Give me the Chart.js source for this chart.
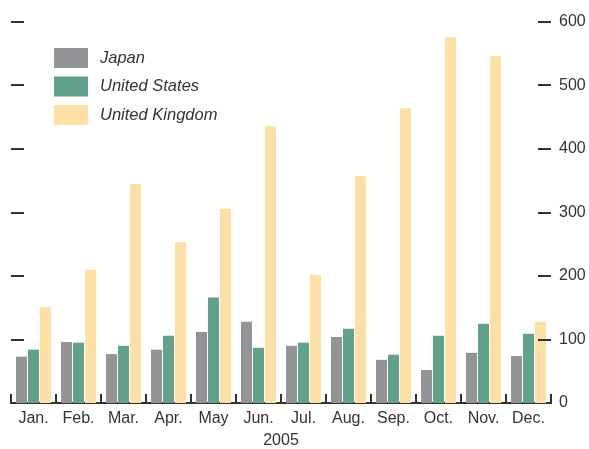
<!DOCTYPE html>
<html>
<head>
<meta charset="utf-8">
<script src="https://cdn.jsdelivr.net/npm/chart.js@4.4.1/dist/chart.umd.min.js"></script>
<style>
  html, body { margin: 0; padding: 0; background: #fff; }
</style>
</head>
<body>
<canvas id="chart" width="589" height="449"></canvas>
<script>
// 2005, monthly values
const months = ['Jan.', 'Feb.', 'Mar.', 'Apr.', 'May', 'Jun.', 'Jul.', 'Aug.', 'Sep.', 'Oct.', 'Nov.', 'Dec.'];
const japan = [73, 96, 77, 84, 112, 128, 90, 104, 68, 52, 79, 74];
const unitedStates = [84, 95, 90, 106, 166, 87, 95, 117, 76, 106, 125, 109];
const unitedKingdom = [151, 210, 345, 253, 306, 436, 202, 357, 464, 576, 546, 128];
const seriesNames = ['Japan', 'United States', 'United Kingdom'];
const seriesColors = ['#939498', '#62a28a', '#fde0a6'];
const yMax = 600;
const yStep = 100;

const FONT = "'Liberation Sans', Arial, sans-serif";
const INK = '#333';

// tick marks drawn inward + legend inside the plot
const marksPlugin = {
  id: 'marks',
  afterDraw(chart) {
    const { ctx, chartArea, scales: { x, y } } = chart;
    ctx.save();
    ctx.strokeStyle = INK;
    ctx.lineWidth = 2;

    // y ticks on both sides, pointing in
    y.ticks.forEach(t => {
      if (t.value === 0) return;
      const py = Math.round(y.getPixelForValue(t.value));
      ctx.beginPath();
      ctx.moveTo(chartArea.left, py);
      ctx.lineTo(chartArea.left + 13, py);
      ctx.moveTo(chartArea.right - 13, py);
      ctx.lineTo(chartArea.right, py);
      ctx.stroke();
    });

    // category boundary ticks, pointing up
    for (let i = 0; i <= months.length; i++) {
      const px = Math.round(x.getPixelForValue(i - 0.5));
      ctx.beginPath();
      ctx.moveTo(px, chartArea.bottom);
      ctx.lineTo(px, chartArea.bottom - 9);
      ctx.stroke();
    }

    // legend
    ctx.font = 'italic 16.5px ' + FONT;
    ctx.textBaseline = 'middle';
    ctx.textAlign = 'left';
    chart.data.datasets.forEach((ds, i) => {
      const top = 48 + i * 28.5;
      ctx.fillStyle = ds.backgroundColor;
      ctx.fillRect(54, top, 34, 20);
      ctx.fillStyle = INK;
      ctx.fillText(ds.label, 100, top + 10);
    });
    ctx.restore();
  }
};

new Chart(document.getElementById('chart'), {
  type: 'bar',
  data: {
    labels: months,
    datasets: [japan, unitedStates, unitedKingdom].map((d, i) => ({
      label: seriesNames[i],
      data: d,
      backgroundColor: seriesColors[i],
      borderWidth: 0,
      barPercentage: 0.917,
      categoryPercentage: 0.8
    }))
  },
  options: {
    responsive: false,
    animation: false,
    layout: { padding: { left: 11, top: 22, right: 0, bottom: 0 } },
    plugins: {
      legend: { display: false },
      tooltip: { enabled: false }
    },
    scales: {
      x: {
        grid: { display: false, drawTicks: false },
        border: { display: true, color: INK, width: 2 },
        ticks: { color: INK, font: { family: FONT, size: 16 }, padding: 6, maxRotation: 0, autoSkip: false },
        title: {
          display: true,
          text: '2005',
          color: INK,
          font: { family: FONT, size: 16, lineHeight: 1 },
          padding: { top: 0, bottom: 0 }
        },
        afterFit: s => { s.height = 46; }
      },
      y: {
        position: 'right',
        min: 0,
        max: yMax,
        grid: { display: false, drawTicks: false },
        border: { display: false },
        ticks: { stepSize: yStep, color: INK, font: { family: FONT, size: 16 }, padding: 8 },
        afterFit: s => { s.width = 38; }
      }
    }
  },
  plugins: [marksPlugin]
});
</script>
</body>
</html>
